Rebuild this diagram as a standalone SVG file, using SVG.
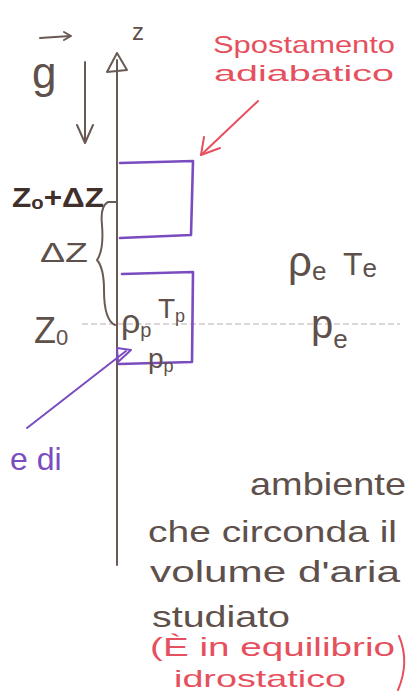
<svg xmlns="http://www.w3.org/2000/svg" width="416" height="697" viewBox="0 0 416 697">
<style>
.ink{font-family:"Liberation Sans","DejaVu Sans",sans-serif;fill:#5e504b}
.bold{font-weight:bold;fill:#3f302b}
.red{font-family:"Liberation Sans","DejaVu Sans",sans-serif;fill:#e6505e}
.pur{font-family:"Liberation Sans","DejaVu Sans",sans-serif;fill:#7a4cc0}
.pline{fill:none;stroke:#7a4cc0;stroke-width:2.6;stroke-linecap:round;stroke-linejoin:round}
.bline{fill:none;stroke:#6a5a54;stroke-width:2;stroke-linecap:round;stroke-linejoin:round}
.rline{fill:none;stroke:#e6505e;stroke-width:2;stroke-linecap:round;stroke-linejoin:round}
</style>
<rect width="416" height="697" fill="#ffffff"/>

<g id="axis">
<line class="bline" x1="117" y1="60" x2="117" y2="565"/>
<path class="bline" d="M107,72 L117,53 L127,70 Z" fill="none"/>
<text class="ink" x="132" y="40" font-size="24">z</text>
</g>

<g id="gravity">
<path class="bline" d="M40,38 L70,36 M64,32 L71,36 L64,40"/>
<text class="ink" x="32" y="88" font-size="44">g</text>
<line class="bline" x1="85" y1="62" x2="85" y2="142"/>
<path class="bline" d="M77,125 L85,143 L93,125"/>
</g>

<g id="reference-line">
<line x1="82" y1="324" x2="400" y2="324" stroke="#b8b0ae" stroke-width="1.2" stroke-dasharray="6 3"/>
</g>

<g id="z-labels">
<text class="ink bold" x="12" y="207" font-size="28" textLength="92" lengthAdjust="spacingAndGlyphs">Z<tspan font-size="18" dy="2">o</tspan><tspan dy="-2">+ΔZ</tspan></text>
<text class="ink" x="40" y="262" font-size="28" textLength="48" lengthAdjust="spacingAndGlyphs">ΔZ</text>
<text class="ink" x="34" y="343" font-size="36">Z<tspan font-size="22" dy="2">0</tspan></text>
<path class="bline" d="M117,202 L108,202 Q100,206 102,225 Q104,250 97,260 Q104,268 104,290 Q104,320 115,325"/>
</g>

<g id="parcel-upper">
<path class="pline" d="M120,163 L193,161 L191,235 L120,238"/>
</g>

<g id="parcel-lower">
<path class="pline" d="M122,274 L193,272 L192,362 L119,364"/>
<text class="ink" x="121" y="333" font-size="34">ρ<tspan font-size="20" dy="4">p</tspan></text>
<text class="ink" x="158" y="318" font-size="28">T<tspan font-size="18" dy="4">p</tspan></text>
<text class="ink" x="148" y="368" font-size="28">p<tspan font-size="18" dy="4">p</tspan></text>
</g>

<g id="environment-values">
<text class="ink" x="288" y="276" font-size="42">ρ<tspan font-size="26" dy="4">e</tspan></text>
<text class="ink" x="343" y="275" font-size="32">T<tspan font-size="26" dy="2">e</tspan></text>
<text class="ink" x="311" y="338" font-size="40">p<tspan font-size="26" dy="10">e</tspan></text>
</g>

<g id="note-adiabatic">
<text class="red" x="213" y="53" font-size="24" textLength="182" lengthAdjust="spacingAndGlyphs">Spostamento</text>
<text class="red" x="214" y="81" font-size="22" textLength="180" lengthAdjust="spacingAndGlyphs">adiabatico</text>
</g>

<g id="note-parcel">
<text class="pur" x="10" y="470" font-size="32">e di</text>
</g>

<g id="note-environment">
<text class="ink" x="250" y="495" font-size="32" textLength="156" lengthAdjust="spacingAndGlyphs">ambiente</text>
<text class="ink" x="148" y="542" font-size="30" textLength="249" lengthAdjust="spacingAndGlyphs">che circonda il</text>
<text class="ink" x="150" y="582" font-size="30" textLength="250" lengthAdjust="spacingAndGlyphs">volume d'aria</text>
<text class="ink" x="152" y="627" font-size="30" textLength="138" lengthAdjust="spacingAndGlyphs">studiato</text>
<text class="red" x="150" y="656" font-size="26" textLength="245" lengthAdjust="spacingAndGlyphs">(È in equilibrio</text>
<text class="red" x="174" y="687" font-size="24" textLength="172" lengthAdjust="spacingAndGlyphs">idrostatico</text>
<path class="rline" d="M399,636 Q410,662 398,690"/>
</g>

<g id="connectors">
<path class="rline" d="M258,101 L201,155"/>
<path class="rline" d="M204,137 L201,155 L220,148"/>
<path class="pline" d="M27,428 L126,351" style="stroke-width:2"/>
<path class="pline" d="M117,348 L131,350 L118,362 Z" style="stroke-width:2"/>
</g>
</svg>
